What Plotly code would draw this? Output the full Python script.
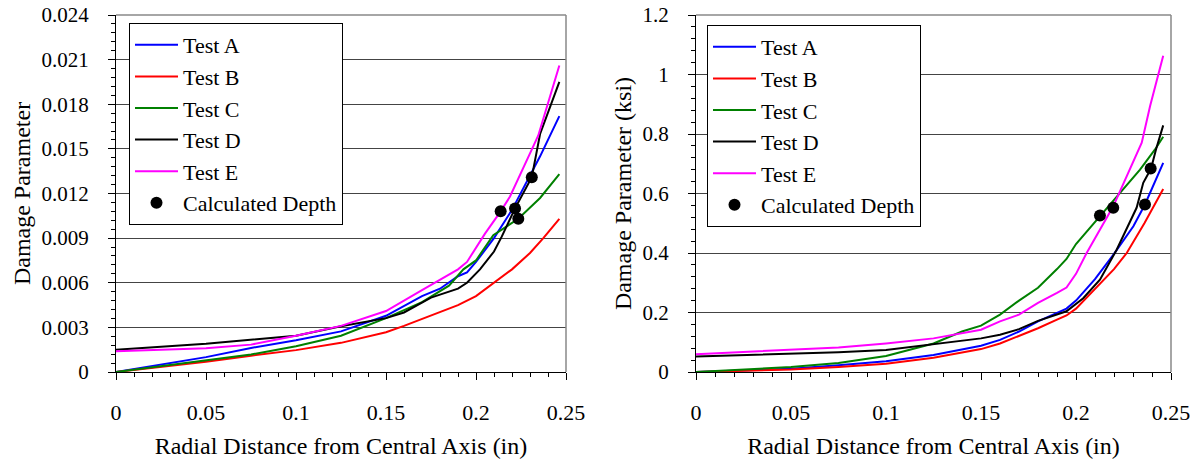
import plotly.graph_objects as go

# ---------------- Left chart data ----------------
L_A_x = [0, 0.05, 0.075, 0.1, 0.125, 0.15, 0.17, 0.18, 0.19, 0.195, 0.2, 0.21, 0.22, 0.2356, 0.2463]
L_A_y = [0, 0.0010, 0.00162, 0.00213, 0.00273, 0.00378, 0.0051, 0.0056, 0.00644, 0.0067, 0.0074, 0.0090, 0.0109, 0.0145, 0.0172]

L_B_x = [0, 0.05, 0.075, 0.1, 0.125, 0.15, 0.16, 0.17, 0.18, 0.19, 0.2, 0.21, 0.22, 0.23, 0.2374, 0.2463]
L_B_y = [0, 0.00069, 0.0011, 0.00147, 0.00196, 0.00267, 0.0031, 0.00356, 0.0040, 0.0045, 0.0051, 0.0060, 0.0069, 0.0080, 0.0090, 0.0103]

L_C_x = [0, 0.05, 0.075, 0.1, 0.125, 0.15, 0.17, 0.185, 0.193, 0.2, 0.2096, 0.2235, 0.2356, 0.2463]
L_C_y = [0, 0.0008, 0.00118, 0.00173, 0.00244, 0.00362, 0.0047, 0.0058, 0.0069, 0.0075, 0.0092, 0.0103, 0.0117, 0.0133]

L_D_x = [0, 0.05, 0.1, 0.125, 0.15, 0.16, 0.175, 0.19, 0.195, 0.2022, 0.21, 0.2143, 0.2217, 0.231, 0.2356, 0.2463]
L_D_y = [0.0015, 0.0019, 0.00244, 0.00307, 0.00362, 0.0040, 0.0050, 0.0056, 0.0060, 0.0069, 0.0081, 0.0091, 0.0110, 0.0131, 0.0160, 0.0195]

L_E_x = [0, 0.05, 0.075, 0.1, 0.125, 0.15, 0.17, 0.18, 0.19, 0.195, 0.205, 0.2137, 0.2189, 0.230, 0.2346, 0.2463]
L_E_y = [0.0014, 0.0016, 0.00184, 0.00244, 0.0031, 0.0041, 0.0055, 0.0062, 0.0069, 0.0074, 0.0093, 0.0108, 0.0118, 0.0147, 0.0159, 0.0206]

L_dots_x = [0.2137, 0.2217, 0.2235, 0.231]
L_dots_y = [0.0108, 0.0110, 0.0103, 0.0131]

# ---------------- Right chart data ----------------
R_A_x = [0, 0.05, 0.075, 0.1, 0.125, 0.15, 0.16, 0.17, 0.18, 0.19, 0.195, 0.2, 0.21, 0.22, 0.2302, 0.2363, 0.2459]
R_A_y = [0, 0.011, 0.023, 0.036, 0.057, 0.088, 0.108, 0.136, 0.17, 0.198, 0.213, 0.24, 0.312, 0.397, 0.49, 0.563, 0.703]

R_B_x = [0, 0.05, 0.075, 0.1, 0.125, 0.15, 0.16, 0.17, 0.18, 0.19, 0.195, 0.2, 0.21, 0.22, 0.2267, 0.236, 0.2459]
R_B_y = [0, 0.008, 0.017, 0.028, 0.048, 0.077, 0.096, 0.122, 0.147, 0.176, 0.19, 0.213, 0.278, 0.346, 0.40, 0.50, 0.615]

R_C_x = [0, 0.05, 0.075, 0.1, 0.125, 0.14, 0.15, 0.16, 0.17, 0.18, 0.19, 0.195, 0.2, 0.2126, 0.2232, 0.2337, 0.2416, 0.2459]
R_C_y = [0, 0.017, 0.030, 0.054, 0.096, 0.136, 0.156, 0.193, 0.240, 0.283, 0.346, 0.38, 0.43, 0.524, 0.602, 0.680, 0.748, 0.791]

R_D_x = [0, 0.05, 0.075, 0.1, 0.125, 0.15, 0.16, 0.17, 0.18, 0.19, 0.195, 0.2038, 0.2126, 0.2214, 0.2319, 0.2354, 0.2395, 0.2421, 0.2459]
R_D_y = [0.052, 0.062, 0.066, 0.074, 0.093, 0.113, 0.125, 0.144, 0.172, 0.193, 0.204, 0.248, 0.310, 0.411, 0.552, 0.636, 0.684, 0.748, 0.829]

R_E_x = [0, 0.05, 0.075, 0.1, 0.125, 0.15, 0.16, 0.17, 0.18, 0.19, 0.195, 0.2, 0.2056, 0.2196, 0.2328, 0.2346, 0.239, 0.2459]
R_E_y = [0.060, 0.074, 0.082, 0.096, 0.113, 0.142, 0.170, 0.193, 0.232, 0.266, 0.284, 0.33, 0.40, 0.557, 0.748, 0.771, 0.894, 1.063]

R_dots_x = [0.2126, 0.2196, 0.2393, 0.2363]
R_dots_y = [0.526, 0.552, 0.684, 0.563]

names = ["Test A", "Test B", "Test C", "Test D", "Test E"]
colors = ["#0000FF", "#FF0000", "#008000", "#000000", "#FF00FF"]

FONT = '"Times New Roman", "Liberation Serif", serif'

fig = go.Figure()

left_series = [(L_A_x, L_A_y), (L_B_x, L_B_y), (L_C_x, L_C_y), (L_D_x, L_D_y), (L_E_x, L_E_y)]
right_series = [(R_A_x, R_A_y), (R_B_x, R_B_y), (R_C_x, R_C_y), (R_D_x, R_D_y), (R_E_x, R_E_y)]

for (xs, ys), n, c in zip(left_series, names, colors):
    fig.add_trace(go.Scatter(x=xs, y=ys, mode="lines", name=n, line=dict(color=c, width=2),
                             xaxis="x", yaxis="y", legend="legend"))
fig.add_trace(go.Scatter(x=L_dots_x, y=L_dots_y, mode="markers", name="Calculated Depth",
                         marker=dict(color="black", size=12), xaxis="x", yaxis="y", legend="legend"))

for (xs, ys), n, c in zip(right_series, names, colors):
    fig.add_trace(go.Scatter(x=xs, y=ys, mode="lines", name=n, line=dict(color=c, width=2),
                             xaxis="x2", yaxis="y2", legend="legend2"))
fig.add_trace(go.Scatter(x=R_dots_x, y=R_dots_y, mode="markers", name="Calculated Depth",
                         marker=dict(color="black", size=12), xaxis="x2", yaxis="y2", legend="legend2"))

W, H = 1196, 463
ydom = [(H - 372) / H, (H - 15) / H]

xcommon = dict(range=[0, 0.25], dtick=0.05, tick0=0, showgrid=False, zeroline=False,
               showline=True, linecolor="black", linewidth=1, automargin=False,
               ticks="outside", ticklen=7, tickcolor="black",
               minor=dict(dtick=0.01, ticks="outside", ticklen=4, tickcolor="black"),
               tickfont=dict(family=FONT, size=22, color="black"),
               ticklabelstandoff=14,
               title=dict(text="Radial Distance from Central Axis (in)",
                          font=dict(family=FONT, size=24, color="black"), standoff=12))

ycommon = dict(showgrid=True, gridcolor="#444444", gridwidth=1, zeroline=False,
               showline=True, linecolor="black", linewidth=1, automargin=False,
               ticks="outside", ticklen=7, tickcolor="black",
               tickfont=dict(family=FONT, size=21, color="black"),
               ticklabelstandoff=15)

fig.update_layout(
    width=W, height=H,
    margin=dict(l=0, r=0, t=0, b=0),
    paper_bgcolor="white", plot_bgcolor="white",
    font=dict(family=FONT, color="black"),
    xaxis=dict(domain=[116 / W, 566 / W], anchor="y", **xcommon),
    yaxis=dict(domain=ydom, anchor="x", range=[0, 0.024], dtick=0.003, tick0=0,
               minor=dict(dtick=0.0006, ticks="outside", ticklen=4, tickcolor="black"),
               title=dict(text="Damage Parameter", font=dict(family=FONT, size=24, color="black"), standoff=4),
               **ycommon),
    xaxis2=dict(domain=[696 / W, 1171 / W], anchor="y2", **xcommon),
    yaxis2=dict(domain=ydom, anchor="x2", range=[0, 1.2], dtick=0.2, tick0=0,
                minor=dict(dtick=0.04, ticks="outside", ticklen=4, tickcolor="black"),
                title=dict(text="Damage Parameter (ksi)", font=dict(family=FONT, size=24, color="black"), standoff=4),
                **ycommon),
    legend=dict(x=129 / W, y=1 - 23 / H, xanchor="left", yanchor="top",
                bordercolor="black", borderwidth=1, bgcolor="white",
                font=dict(family=FONT, size=22, color="black"), itemwidth=43,
                tracegroupgap=0),
    legend2=dict(x=707 / W, y=1 - 25 / H, xanchor="left", yanchor="top",
                 bordercolor="black", borderwidth=1, bgcolor="white",
                 font=dict(family=FONT, size=22, color="black"), itemwidth=43,
                 tracegroupgap=0),
    showlegend=True,
)

# gray frame on top/right of each plot area
for xr, yr in [("x domain", "y domain"), ("x2 domain", "y2 domain")]:
    fig.add_shape(type="line", xref=xr, yref=yr, x0=0, x1=1, y0=1, y1=1,
                  line=dict(color="#888888", width=1.5))
    fig.add_shape(type="line", xref=xr, yref=yr, x0=1, x1=1, y0=0, y1=1,
                  line=dict(color="#888888", width=1.5))

fig.write_html("out.html", config={"displayModeBar": False},
               post_script="document.body.style.margin='0';document.body.style.padding='0';")
